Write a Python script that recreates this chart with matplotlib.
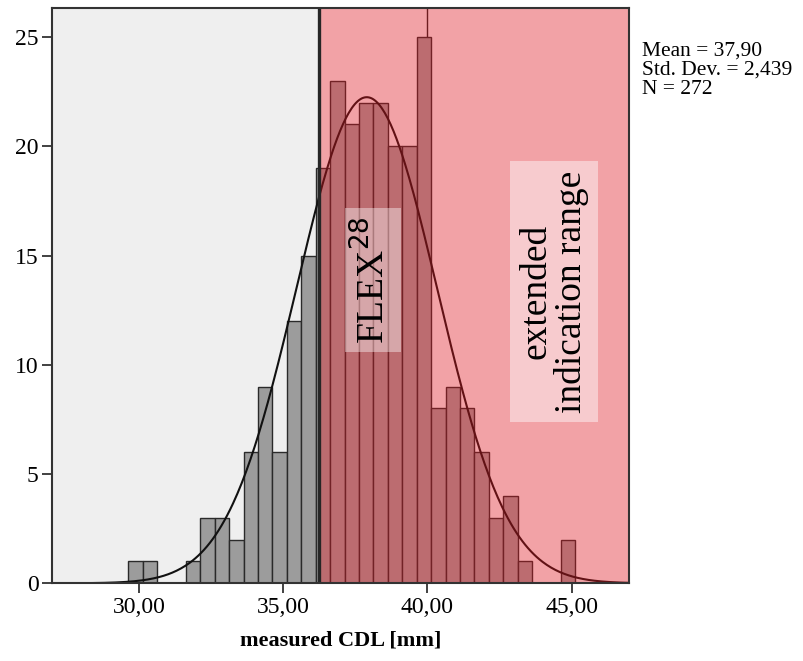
import numpy as np
import matplotlib
matplotlib.use("Agg")
import matplotlib.pyplot as plt
from matplotlib.patches import Rectangle

plt.rcParams['font.family'] = ['Liberation Serif', 'DejaVu Serif']

# histogram data (SPSS style output)
bin_start = 29.63
bin_width = 0.5
counts = [1, 1, 0, 0, 1, 3, 3, 2, 6, 9, 6, 12, 15, 19,
          23, 21, 22, 22, 20, 20, 25, 8, 9, 8, 6, 3, 4, 1, 0, 0, 2]
mean_cdl = 37.90
sd_cdl = 2.439
n_cdl = 272

flex_from = 36.25
ref_line = 40.0
xticks = [30, 35, 40, 45]
xtick_labels = ['30,00', '35,00', '40,00', '45,00']
yticks = [0, 5, 10, 15, 20, 25]

fig = plt.figure(figsize=(8.04, 6.61), dpi=100)
ax = fig.add_axes([0.06505, 0.11755, 0.71766, 0.87110])
ax.set_facecolor('#efefef')

edges = bin_start + bin_width * np.arange(len(counts))
ax.axvline(ref_line, color='#222222', lw=1.0, zorder=1)
ax.bar(edges, counts, width=bin_width, align='edge', color='#9c9c9c',
       edgecolor='#2a2a2a', linewidth=1.0, zorder=2)

# normal curve
xs = np.linspace(27, 47, 400)
ys = n_cdl * bin_width / (sd_cdl * np.sqrt(2 * np.pi)) * np.exp(-0.5 * ((xs - mean_cdl) / sd_cdl) ** 2)
ax.plot(xs, ys, color='#111111', lw=1.5, zorder=3)

# red overlay = FLEX28 / extended range
ax.add_patch(Rectangle((flex_from, 0), 47 - flex_from, 30, facecolor=(0.98, 0.08, 0.12),
                       alpha=0.35, edgecolor='none', zorder=4))
ax.axvline(flex_from, color='#262626', lw=2.4, zorder=5)

ax.text(38.12, 13.88, 'FLEX$^{28}$', rotation=90, ha='center', va='center',
        fontsize=27, zorder=6,
        bbox=dict(boxstyle='square,pad=0.22', facecolor='white', alpha=0.4, edgecolor='none'))
ax.text(44.39, 13.35, 'extended\nindication range', rotation=90, ha='center', va='center',
        fontsize=27, linespacing=1.0, zorder=6,
        bbox=dict(boxstyle='square,pad=0.25', facecolor='white', alpha=0.45, edgecolor='none'))

ax.set_xlim(27, 47)
ax.set_ylim(0, 26.35)
ax.set_xticks(xticks)
ax.set_xticklabels(xtick_labels)
ax.set_yticks(yticks)
ax.tick_params(direction='out', length=7, width=1.3, color='#333333', labelsize=17, pad=3)
for sp in ax.spines.values():
    sp.set_color('#333333')
    sp.set_linewidth(1.5)
    sp.set_zorder(7)
ax.set_xlabel('measured CDL [mm]', fontsize=16, fontweight='bold', labelpad=9)

fig.text(0.798, 0.937, 'Mean = 37,90\nStd. Dev. = 2,439\nN = 272', ha='left', va='top',
         fontsize=15.5, linespacing=1.0)

fig.savefig('out.png', dpi=100)
